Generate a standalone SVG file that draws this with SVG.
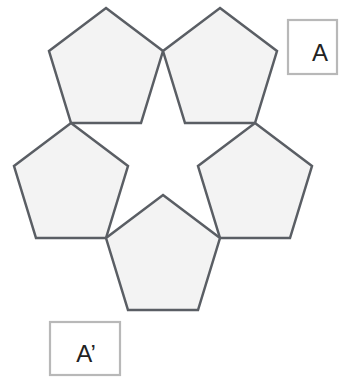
<svg xmlns="http://www.w3.org/2000/svg" width="342" height="378" viewBox="0 0 342 378">
<style>
.pent{fill:#f3f3f3;stroke:#5a5e64;stroke-width:2.5;stroke-linejoin:miter}
.box{fill:#ffffff;stroke:#b8b8b8;stroke-width:2.2}
.lbl{font-family:"Liberation Sans",Arial,sans-serif;font-size:24px;fill:#222;text-anchor:middle}
</style>
<defs>
<polygon id="p" points="0,0 57,43 35,115 -35,115 -57,43"/>
</defs>
<rect width="342" height="378" fill="#ffffff"/>
<g id="pentagon-top-left"><use href="#p" class="pent" x="106" y="8"/></g>
<g id="pentagon-top-right"><use href="#p" class="pent" x="220" y="8"/></g>
<g id="pentagon-left"><use href="#p" class="pent" x="71" y="123"/></g>
<g id="pentagon-right"><use href="#p" class="pent" x="255" y="123"/></g>
<g id="pentagon-bottom"><use href="#p" class="pent" x="163" y="195"/></g>
<g id="label-A">
<rect class="box" x="288" y="20" width="49" height="54"/>
<text class="lbl" x="320" y="61">A</text>
</g>
<g id="label-A-prime">
<rect class="box" x="50" y="322" width="70" height="53"/>
<text class="lbl" x="86" y="362">A’</text>
</g>
<g id="connectors"></g>
</svg>
